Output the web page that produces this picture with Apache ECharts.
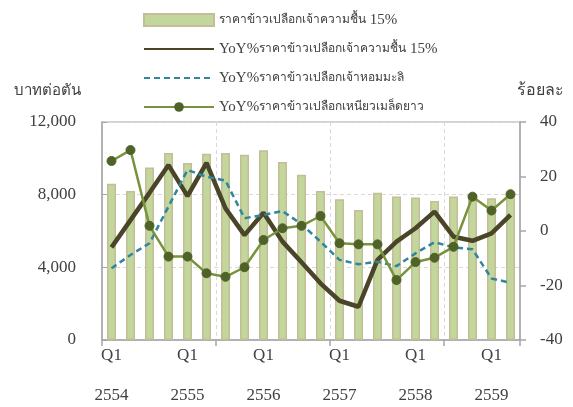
<!DOCTYPE html>
<html>
<head>
<meta charset="utf-8">
<script src="https://cdn.jsdelivr.net/npm/echarts@6/dist/echarts.min.js"></script>
<style>html,body{margin:0;padding:0;background:#fff}#c{width:573px;height:407px}</style>
</head>
<body>
<div id="c"></div>
<script>
var quarters = ['Q1','Q2','Q3','Q4','Q1','Q2','Q3','Q4','Q1','Q2','Q3','Q4','Q1','Q2','Q3','Q4','Q1','Q2','Q3','Q4','Q1','Q2'];
var years = ['2554','2554','2554','2554','2555','2555','2555','2555','2556','2556','2556','2556','2557','2557','2557','2557','2558','2558','2558','2558','2559','2559'];
var priceWhite15 = [8600, 8200, 9500, 10300, 9750, 10250, 10300, 10200, 10450, 9800, 9100, 8200, 7750, 7150, 8100, 7900, 7850, 7650, 7900, 7950, 7800, 8000];
var yoyWhite15 = [-6, 4, 14, 24.2, 12.8, 25, 8.3, -1.5, 6.7, -3.9, -11.5, -19.2, -25.6, -27.8, -10.6, -3.9, 1, 7.1, -2.1, -3.6, -0.9, 5.9];
var yoyJasmine = [-13.7, -8.8, -4.5, 9, 22.4, 19.9, 18.5, 4.7, 5.9, 7.3, 2.5, -3.9, -10.6, -12.2, -11.3, -12.9, -8.2, -4.1, -6, -6.7, -17.4, -19];
var yoyGlutinous = [25.7, 29.7, 1.9, -9.4, -9.4, -15.5, -16.8, -13.3, -3.3, 1, 1.9, 5.5, -4.5, -4.9, -4.9, -18, -11.4, -9.8, -5.8, 12.6, 7.5, 13.5];
var leftTicks = {min: 0, max: 12000, interval: 4000};
var rightTicks = {min: -40, max: 40, interval: 20};
var names = ['ราคาข้าวเปลือกเจ้าความชื้น 15%', 'YoY%ราคาข้าวเปลือกเจ้าความชื้น 15%', 'YoY%ราคาข้าวเปลือกเจ้าหอมมะลิ', 'YoY%ราคาข้าวเปลือกเหนียวเมล็ดยาว'];

var categories = quarters.map(function (q, i) { return q + '\n' + years[i]; });
var FONT = '"Liberation Serif", "DejaVu Serif", serif';

// Latin runs slightly larger than Thai runs, as in the reference legend
function legendRich(name) {
  var parts = name.match(/[A-Za-z0-9%. ]+|[^A-Za-z0-9%. ]+/g) || [name];
  return parts.map(function (p) {
    return /[A-Za-z0-9%]/.test(p) ? '{l|' + p + '}' : '{t|' + p + '}';
  }).join('');
}

var chart = echarts.init(document.getElementById('c'));
chart.setOption({
  animation: false,
  textStyle: {fontFamily: FONT, color: '#404040'},
  grid: {left: 102, right: 53, top: 122, bottom: 67, outerBoundsMode: 'none', containLabel: false,
         show: true, borderColor: '#a6a6a6', borderWidth: 1, backgroundColor: 'transparent'},
  legend: {
    orient: 'vertical', left: 143, top: 11, padding: 0, itemWidth: 70, itemHeight: 12, itemGap: 11,
    formatter: legendRich,
    textStyle: {fontFamily: FONT, fontSize: 12, color: '#404040', lineHeight: 18,
      rich: {
        l: {fontFamily: FONT, fontSize: 15, color: '#404040', lineHeight: 18},
        t: {fontFamily: FONT, fontSize: 12, color: '#404040', lineHeight: 18}
      }
    },
    data: [
      {name: names[0], icon: 'rect'},
      {name: names[1], itemStyle: {opacity: 0}},
      {name: names[2], itemStyle: {opacity: 0}},
      {name: names[3]}
    ]
  },
  xAxis: {
    type: 'category', data: categories, boundaryGap: true,
    axisLine: {lineStyle: {color: '#a6a6a6', width: 1.5}},
    axisTick: {show: true, interval: 5, length: 6, lineStyle: {color: '#a6a6a6', width: 1.5}},
    axisLabel: {interval: 3, fontSize: 17, color: '#404040', lineHeight: 40, margin: -4},
    splitLine: {show: true, interval: 5, lineStyle: {color: '#d9d9d9', type: [4, 3]}}
  },
  yAxis: [{
    type: 'value', min: leftTicks.min, max: leftTicks.max, interval: leftTicks.interval,
    name: 'บาทต่อตัน', nameLocation: 'end', nameGap: 31,
    nameTextStyle: {fontFamily: FONT, fontSize: 15, color: '#404040', align: 'center', verticalAlign: 'middle', padding: [0, 110, 0, 0]},
    axisLine: {show: true, lineStyle: {color: '#a6a6a6', width: 1.5}},
    axisTick: {show: true, inside: true, length: 5, lineStyle: {color: '#a6a6a6'}},
    axisLabel: {fontSize: 17, color: '#404040', margin: 26},
    splitLine: {show: true, lineStyle: {color: '#d9d9d9', type: [4, 3]}}
  }, {
    type: 'value', min: rightTicks.min, max: rightTicks.max, interval: rightTicks.interval, position: 'right',
    name: 'ร้อยละ', nameLocation: 'end', nameGap: 31,
    nameTextStyle: {fontFamily: FONT, fontSize: 16, color: '#404040', align: 'center', verticalAlign: 'middle', padding: [0, 0, 0, 40]},
    axisLine: {show: true, lineStyle: {color: '#a6a6a6', width: 1.5}},
    axisTick: {show: true, inside: false, length: 6, lineStyle: {color: '#a6a6a6', width: 1.5}},
    axisLabel: {fontSize: 17, color: '#404040', margin: 20},
    splitLine: {show: false}
  }],
  series: [{
    name: names[0], type: 'bar', data: priceWhite15, barWidth: 9, yAxisIndex: 0,
    itemStyle: {color: '#c3d69b', borderColor: '#c4bd97', borderWidth: 1.5}
  }, {
    name: names[1], type: 'line', data: yoyWhite15, yAxisIndex: 1, symbol: 'none',
    lineStyle: {color: '#4a4529', width: 4.5}, itemStyle: {color: '#4a4529'}
  }, {
    name: names[2], type: 'line', data: yoyJasmine, yAxisIndex: 1, symbol: 'none',
    lineStyle: {color: '#31859c', width: 2.5, type: [6, 4]}, itemStyle: {color: '#31859c'}
  }, {
    name: names[3], type: 'line', data: yoyGlutinous, yAxisIndex: 1, symbol: 'circle', symbolSize: 9,
    lineStyle: {color: '#77933c', width: 2.5}, itemStyle: {color: '#4f6228', borderColor: '#4f6228'}
  }]
});
</script>
</body>
</html>
